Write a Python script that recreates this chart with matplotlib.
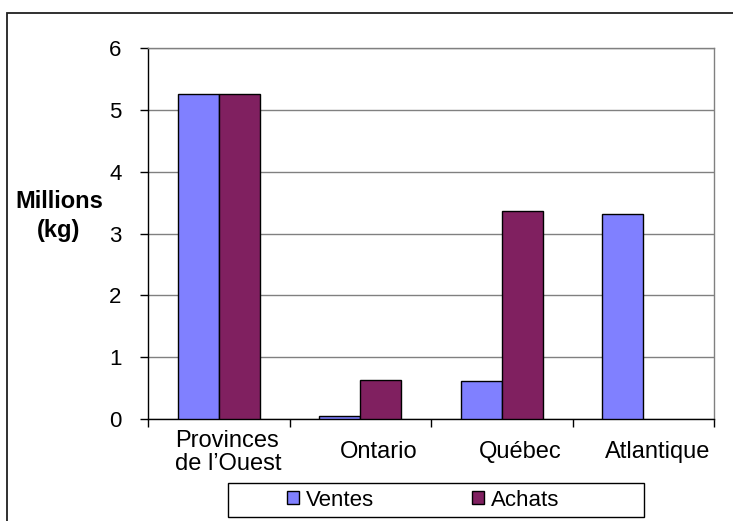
import matplotlib
matplotlib.use("Agg")
import matplotlib.pyplot as plt
import matplotlib.transforms as mtrans
import numpy as np
from matplotlib.patches import Rectangle, Patch

plt.rcParams['font.family'] = ['Liberation Sans', 'DejaVu Sans']

categories = ["Provinces\nde l\u2019Ouest", "Ontario", "Qu\u00e9bec", "Atlantique"]
ventes = [5.25, 0.05, 0.62, 3.32]
achats = [5.25, 0.63, 3.37, 0.0]
series_names = ["Ventes", "Achats"]
y_ticks = [0, 1, 2, 3, 4, 5, 6]

W, H = 733, 521
fig = plt.figure(figsize=(W / 100, H / 100), dpi=100)
ax = fig.add_axes([148 / W, (H - 419) / H, (714 - 148) / W, (419 - 48) / H])

x = np.arange(len(categories)) + 0.5
bw = 0.29
c_v = "#8080FF"
c_a = "#802060"
v = np.array(ventes)
a = np.array(achats)
mv = v > 0
ma = a > 0
ax.bar((x - bw / 2)[mv], v[mv], bw, color=c_v, edgecolor="black", linewidth=1.0, zorder=3)
ax.bar((x + bw / 2)[ma], a[ma], bw, color=c_a, edgecolor="black", linewidth=1.0, zorder=3)

ax.set_xlim(0, len(categories))
ax.set_ylim(0, 6)
ax.set_yticks(y_ticks)
ax.set_yticklabels([str(t) for t in y_ticks], fontsize=16)
ax.tick_params(axis="y", direction="out", length=6, width=1, pad=13)
ax.set_xticks(np.arange(len(categories) + 1))
ax.set_xticklabels([])
ax.tick_params(axis="x", direction="out", length=6, width=1)
ax.yaxis.grid(True, color="#808080", linewidth=1.0, zorder=0)
ax.set_axisbelow(True)
for s in ["top", "right"]:
    ax.spines[s].set_color("#808080")
    ax.spines[s].set_linewidth(1.0)
for s in ["left", "bottom"]:
    ax.spines[s].set_color("black")
    ax.spines[s].set_linewidth(1.0)

trans = mtrans.blended_transform_factory(ax.transData, ax.transAxes)
offsets = [0.07, 0.13, 0.13, 0.1]
for xi, lab, off in zip(x, categories, offsets):
    ax.text(xi + off, -0.09, lab, transform=trans, ha="center", va="center",
            fontsize=17, linespacing=1.1, multialignment="left")

fig.text(59 / W, 1 - 216 / H, "Millions\n(kg)", ha="center", va="center",
         fontsize=17, fontweight="bold", multialignment="center", linespacing=1.35)

# legend frame
fig.patches.append(Rectangle((228 / W, 1 - 517 / H), (644 - 228) / W, (517 - 483) / H,
                             transform=fig.transFigure, facecolor="white",
                             edgecolor="black", linewidth=1.0))
handles = [Patch(facecolor=c_v, edgecolor="black", linewidth=1.0),
           Patch(facecolor=c_a, edgecolor="black", linewidth=1.0)]
leg = fig.legend(handles, series_names, loc="center left", ncol=2,
                 bbox_to_anchor=(287 / W, 1 - 500 / H), frameon=False, fontsize=16,
                 handlelength=0.55, handleheight=0.55, handletextpad=0.3,
                 columnspacing=4.4, borderpad=0.0, borderaxespad=0)

# outer chart border
fig.patches.append(Rectangle((7 / W, -0.1), 1.2, 1 - 13 / H + 0.1,
                             transform=fig.transFigure, facecolor="none",
                             edgecolor="#202020", linewidth=1.3))

fig.savefig("out.png", dpi=100)
